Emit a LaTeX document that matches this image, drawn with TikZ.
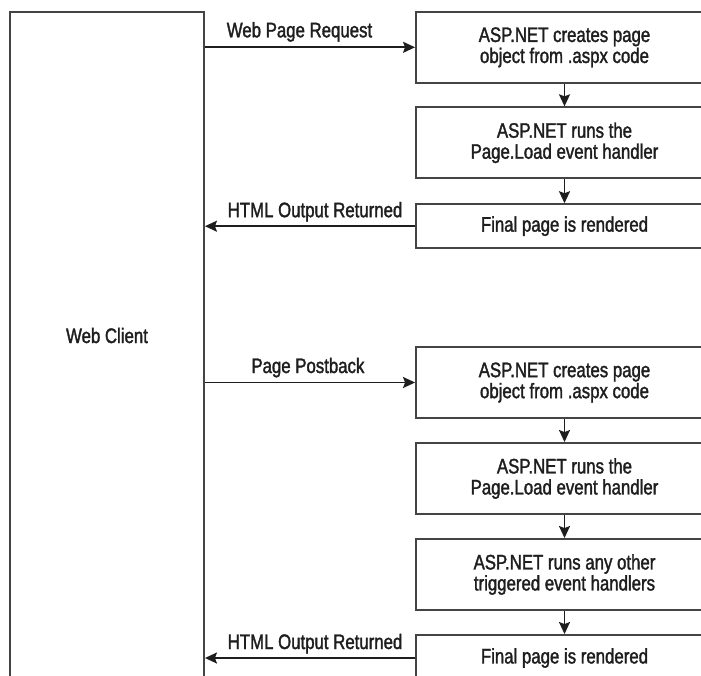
\documentclass[tikz,border=0pt]{standalone}
\usepackage{fontspec}
\setmainfont{Liberation Sans}[FakeStretch=0.8,FakeBold=1.6]
\usetikzlibrary{arrows.meta}
\definecolor{ln}{HTML}{444444}
\definecolor{tx}{HTML}{1E1E1E}
\begin{document}
\begin{tikzpicture}[x=1pt,y=-1pt,
  txt/.style={font=\fontsize{21}{21}\selectfont, text=tx},
  box/.style={txt, draw=ln, line width=1.9pt, minimum width=297pt, inner sep=0pt, align=center},
  client/.style={draw=ln, line width=1.9pt, minimum width=194pt, minimum height=700pt, inner sep=0pt},
  arr/.style={draw=tx, line width=1.8pt, -{Stealth[length=12pt,width=11pt,inset=2pt]}},
  lbl/.style={txt, anchor=base, inner sep=0pt}
]
\useasboundingbox (0,0) rectangle (701,675);
\clip (0,0) rectangle (701,675);

\node[client, label={[txt, yshift=26.5pt]center:Web Client}] (wc) at (107,362) {};

\node[box, minimum height=70.5pt] (b1) at (564.5,47.3) {ASP.NET creates page\\object from .aspx code};
\node[box, minimum height=71pt]   (b2) at (564.5,142.8) {ASP.NET runs the\\Page.Load event handler};
\node[box, minimum height=44pt]   (b3) at (564.5,226.2) {Final page is rendered};

\node[box, minimum height=71pt]   (b4) at (564.5,382.5) {ASP.NET creates page\\object from .aspx code};
\node[box, minimum height=71pt]   (b5) at (564.5,478.5) {ASP.NET runs the\\Page.Load event handler};
\node[box, minimum height=71pt]   (b6) at (564.5,574.5) {ASP.NET runs any other\\triggered event handlers};
\node[box, minimum height=46pt]   (b7) at (564.5,658) {Final page is rendered};

\draw[arr] (b1) -- (b2);
\draw[arr] (b2) -- (b3);
\draw[arr] (b4) -- (b5);
\draw[arr] (b5) -- (b6);
\draw[arr] (b6) -- (b7);

\draw[arr] (wc.east |- b1.west) -- (b1.west)
  node[lbl, pos=0.45, yshift=10pt] {Web Page Request};
\draw[arr] (b3.west) -- (wc.east |- b3.west)
  node[lbl, pos=0.476, yshift=9pt] {HTML Output Returned};
\draw[arr] (wc.east |- b4.west) -- (b4.west)
  node[lbl, pos=0.49, yshift=9.5pt] {Page Postback};
\draw[arr] (b7.west) -- (wc.east |- b7.west)
  node[lbl, pos=0.476, yshift=9pt] {HTML Output Returned};
\end{tikzpicture}
\end{document}
